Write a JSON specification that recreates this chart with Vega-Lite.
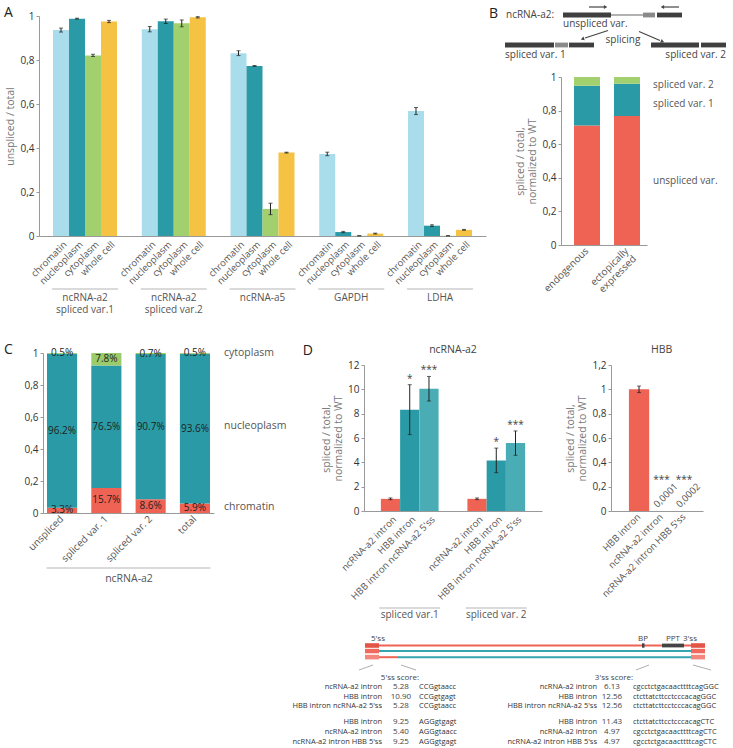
{
"$schema": "https://vega.github.io/schema/vega-lite/v6.json",
"padding": {"left": 3, "top": 3, "right": 0, "bottom": 0},
"background": "white",
"spacing": 11,
"resolve": {"scale": {"color": "independent", "xOffset": "independent"}},
"config": {
  "font": "Open Sans",
  "view": {"stroke": null},
  "axis": {"labelFont": "Open Sans", "titleFont": "Open Sans", "labelFontSize": 10, "titleFontSize": 10.5, "titleFontWeight": "normal", "labelColor": "#333", "titleColor": "#777", "domainColor": "#999", "tickColor": "#999", "tickSize": 3, "grid": false, "labelPadding": 2, "labelOverlap": false},
  "text": {"font": "Open Sans"}
},
"vconcat": [
 {"hconcat": [
   {"vconcat": [
     {"width": 1, "height": 1, "data": {"values": [{"s": 0}]}, "mark": {"type": "point", "opacity": 0, "size": 0, "strokeWidth": 0}, "encoding": {}},
     {
      "width": 447, "height": 220,
      "data": {"values": [
        {"gene":"ncRNA-a2|spliced var.1","comp":"chromatin","v":0.936,"lo":0.927,"hi":0.945},
        {"gene":"ncRNA-a2|spliced var.1","comp":"nucleoplasm","v":0.988,"lo":0.986,"hi":0.990},
        {"gene":"ncRNA-a2|spliced var.1","comp":"cytoplasm","v":0.821,"lo":0.816,"hi":0.826},
        {"gene":"ncRNA-a2|spliced var.1","comp":"whole cell","v":0.975,"lo":0.970,"hi":0.980},
        {"gene":"ncRNA-a2|spliced var.2","comp":"chromatin","v":0.940,"lo":0.928,"hi":0.952},
        {"gene":"ncRNA-a2|spliced var.2","comp":"nucleoplasm","v":0.976,"lo":0.966,"hi":0.986},
        {"gene":"ncRNA-a2|spliced var.2","comp":"cytoplasm","v":0.967,"lo":0.951,"hi":0.982},
        {"gene":"ncRNA-a2|spliced var.2","comp":"whole cell","v":0.994,"lo":0.991,"hi":0.997},
        {"gene":"ncRNA-a5","comp":"chromatin","v":0.831,"lo":0.820,"hi":0.842},
        {"gene":"ncRNA-a5","comp":"nucleoplasm","v":0.773,"lo":0.771,"hi":0.775},
        {"gene":"ncRNA-a5","comp":"cytoplasm","v":0.123,"lo":0.097,"hi":0.149},
        {"gene":"ncRNA-a5","comp":"whole cell","v":0.379,"lo":0.377,"hi":0.381},
        {"gene":"GAPDH","comp":"chromatin","v":0.373,"lo":0.365,"hi":0.381},
        {"gene":"GAPDH","comp":"nucleoplasm","v":0.018,"lo":0.015,"hi":0.021},
        {"gene":"GAPDH","comp":"cytoplasm","v":0.001,"lo":0.001,"hi":0.001},
        {"gene":"GAPDH","comp":"whole cell","v":0.011,"lo":0.009,"hi":0.013},
        {"gene":"LDHA","comp":"chromatin","v":0.568,"lo":0.552,"hi":0.584},
        {"gene":"LDHA","comp":"nucleoplasm","v":0.047,"lo":0.043,"hi":0.051},
        {"gene":"LDHA","comp":"cytoplasm","v":0.001,"lo":0.001,"hi":0.001},
        {"gene":"LDHA","comp":"whole cell","v":0.028,"lo":0.026,"hi":0.030}
      ]},
      "encoding": {
        "x": {"field": "gene", "type": "nominal", "sort": null, "scale": {"paddingInner": 0.279, "paddingOuter": 0.158},
              "axis": {"title": null, "ticks": false, "labelAngle": 0, "labelExpr": "split(datum.label, '|')", "labelPadding": 56, "labelBaseline": "top", "labelLineHeight": 12, "labelColor": "#555", "labelFontSize": 10}},
        "xOffset": {"field": "comp", "type": "nominal", "sort": null, "scale": {"domain": ["chromatin","nucleoplasm","cytoplasm","whole cell"], "paddingInner": 0, "paddingOuter": 0}}
      },
      "layer": [
        {"mark": {"type": "bar"},
         "encoding": {
           "y": {"field": "v", "type": "quantitative", "scale": {"domain": [0, 1]}, "axis": {"title": "unspliced / total", "values": [0,0.2,0.4,0.6,0.8,1], "tickCount": 10, "labelExpr": "replace(format(datum.value, '~g'), '.', ',')"}},
           "color": {"field": "comp", "type": "nominal", "scale": {"domain": ["chromatin","nucleoplasm","cytoplasm","whole cell"], "range": ["#a9ddec","#2a9ba6","#a2d06e","#f5c243"]}, "legend": null}
         }},
        {"mark": {"type": "rule", "color": "#222", "strokeWidth": 1},
         "encoding": {"y": {"field": "lo", "type": "quantitative"}, "y2": {"field": "hi"}}},
        {"mark": {"type": "tick", "orient": "horizontal", "size": 4, "thickness": 1, "color": "#222"},
         "encoding": {"y": {"field": "lo", "type": "quantitative"}}},
        {"mark": {"type": "tick", "orient": "horizontal", "size": 4, "thickness": 1, "color": "#222"},
         "encoding": {"y": {"field": "hi", "type": "quantitative"}}},
        {"mark": {"type": "text", "angle": -45, "align": "right", "baseline": "middle", "dx": -2, "dy": 8, "fontSize": 9.5, "color": "#555"},
         "encoding": {"y": {"datum": 0, "type": "quantitative"}, "text": {"field": "comp"}}},
        {"data": {"values": [{"gene":"ncRNA-a2|spliced var.1"},{"gene":"ncRNA-a2|spliced var.2"},{"gene":"ncRNA-a5"},{"gene":"GAPDH"},{"gene":"LDHA"}]},
         "mark": {"type": "tick", "orient": "horizontal", "size": 66, "thickness": 1, "color": "#999"},
         "encoding": {"xOffset": null, "y": {"datum": -0.241, "type": "quantitative"}}},
        {"data": {"values": [{"t": "A"}]},
         "mark": {"type": "text", "align": "left", "baseline": "middle", "dx": -49, "fontSize": 14, "color": "#222"},
         "encoding": {"x": {"datum": "ncRNA-a2|spliced var.1", "type": "nominal", "bandPosition": 0}, "xOffset": null, "y": {"datum": 1.014, "type": "quantitative"}, "text": {"field": "t"}}}
      ]
     },
     {"width": 1, "height": 78, "data": {"values": [{"s": 0}]}, "mark": {"type": "point", "opacity": 0, "size": 0, "strokeWidth": 0}, "encoding": {}}
   ], "spacing": 12, "bounds": "flush", "resolve": {"scale": {"color": "independent", "xOffset": "independent"}}},
   {"vconcat": [
     {
      "width": 167, "height": 56,
      "encoding": {
        "x": {"field": "x", "type": "quantitative", "scale": {"domain": [56, 223]}, "axis": null},
        "y": {"field": "y", "type": "quantitative", "scale": {"domain": [0, 56], "reverse": true}, "axis": null}
      },
      "layer": [
        {"data": {"values": [{"x":106,"y":12,"x2":138,"y2":12}]},
         "mark": {"type": "rule", "color": "#999", "strokeWidth": 1.5},
         "encoding": {"x2": {"field": "x2"}, "y2": {"field": "y2"}}},
        {"data": {"values": [
           {"x":58,"x2":106,"y":9.6,"y2":14.4,"k":"exon"},
           {"x":138,"x2":150,"y":9.6,"y2":14.4,"k":"alt exon"},
           {"x":152,"x2":177,"y":9.6,"y2":14.4,"k":"exon"},
           {"x":0,"x2":49,"y":39.6,"y2":44.4,"k":"exon"},
           {"x":50,"x2":63,"y":39.6,"y2":44.4,"k":"alt exon"},
           {"x":64,"x2":89,"y":39.6,"y2":44.4,"k":"exon"},
           {"x":146,"x2":194,"y":39.6,"y2":44.4,"k":"exon"},
           {"x":196,"x2":221,"y":39.6,"y2":44.4,"k":"exon"}]},
         "mark": {"type": "rect"},
         "encoding": {"x2": {"field": "x2"}, "y2": {"field": "y2"},
           "color": {"field": "k", "type": "nominal", "scale": {"domain": ["exon","alt exon"], "range": ["#3f3f3f","#8a8a8a"]}, "legend": null}}},
        {"data": {"values": [
           {"x":84,"y":4,"x2":99,"y2":4},
           {"x":174,"y":4,"x2":159,"y2":4},
           {"x":103,"y":27.5,"x2":80,"y2":35},
           {"x":134,"y":28.5,"x2":155,"y2":37.5}]},
         "mark": {"type": "rule", "color": "#444", "strokeWidth": 1.2},
         "encoding": {"x2": {"field": "x2"}, "y2": {"field": "y2"}}},
        {"data": {"values": [
           {"x":100,"y":4,"dir":90},
           {"x":158,"y":4,"dir":270},
           {"x":78,"y":35.7,"dir":252},
           {"x":157,"y":38.4,"dir":113}]},
         "mark": {"type": "point", "shape": "triangle", "filled": true, "color": "#444", "size": 16, "opacity": 1},
         "encoding": {"angle": {"field": "dir", "type": "quantitative", "scale": null}}},
        {"data": {"values": [
           {"x":1,"y":12,"t":"ncRNA-a2:"},
           {"x":58,"y":21,"t":"unspliced var."},
           {"x":0,"y":52,"t":"spliced var. 1"}]},
         "mark": {"type": "text", "align": "left", "baseline": "middle", "fontSize": 10, "color": "#444"},
         "encoding": {"text": {"field": "t"}}},
        {"data": {"values": [{"x":118,"y":37,"t":"splicing"}]},
         "mark": {"type": "text", "align": "center", "baseline": "middle", "fontSize": 10, "color": "#444"},
         "encoding": {"text": {"field": "t"}}},
        {"data": {"values": [{"x":221,"y":52,"t":"spliced var. 2"}]},
         "mark": {"type": "text", "align": "right", "baseline": "middle", "fontSize": 10, "color": "#444"},
         "encoding": {"text": {"field": "t"}}},
        {"data": {"values": [{"x":-16,"y":11,"t":"B"}]},
         "mark": {"type": "text", "align": "left", "baseline": "middle", "fontSize": 14, "color": "#222"},
         "encoding": {"text": {"field": "t"}}}
      ]
     },
     {
      "width": 86, "height": 168,
      "data": {"values": [
        {"cond":"endogenous","part":"unspliced var.","k":1,"v":0.712},
        {"cond":"endogenous","part":"spliced var. 1","k":2,"v":0.236},
        {"cond":"endogenous","part":"spliced var. 2","k":3,"v":0.052},
        {"cond":"ectopically|expressed","part":"unspliced var.","k":1,"v":0.768},
        {"cond":"ectopically|expressed","part":"spliced var. 1","k":2,"v":0.192},
        {"cond":"ectopically|expressed","part":"spliced var. 2","k":3,"v":0.040}
      ]},
      "layer": [
        {"mark": {"type": "bar"},
         "encoding": {
           "x": {"field": "cond", "type": "nominal", "sort": null, "scale": {"paddingInner": 0.35, "paddingOuter": 0.25, "align": 0.65},
                 "axis": {"title": null, "ticks": false, "labelAngle": -45, "labelAlign": "right", "labelBaseline": "middle", "labelExpr": "split(datum.label, '|')", "labelPadding": 4, "labelColor": "#555", "labelFontSize": 10, "labelLineHeight": 11}},
           "y": {"field": "v", "type": "quantitative", "stack": "zero", "scale": {"domain": [0, 1]},
                 "axis": {"title": ["spliced / total,", "normalized to WT"], "values": [0,0.2,0.4,0.6,0.8,1], "tickCount": 10, "labelExpr": "replace(format(datum.value, '~g'), '.', ',')"}},
           "color": {"field": "part", "type": "nominal", "scale": {"domain": ["unspliced var.","spliced var. 1","spliced var. 2"], "range": ["#ef6354","#2a9ba6","#a2d06e"]}, "legend": null},
           "order": {"field": "k", "type": "quantitative"}
         }},
        {"data": {"values": [{"t":"spliced var. 2","y":0.952},{"t":"spliced var. 1","y":0.839},{"t":"unspliced var.","y":0.38}]},
         "mark": {"type": "text", "align": "left", "baseline": "middle", "dx": 13, "fontSize": 10, "color": "#555"},
         "encoding": {
           "x": {"datum": "ectopically|expressed", "type": "nominal", "bandPosition": 1},
           "y": {"field": "y", "type": "quantitative"},
           "text": {"field": "t"}
         }}
      ]
     }
   ], "spacing": 18, "bounds": "flush", "resolve": {"scale": {"color": "independent", "xOffset": "independent"}}}
 ], "spacing": 3, "resolve": {"scale": {"color": "independent", "xOffset": "independent"}}},
 {"hconcat": [
   {"concat": [
     {"width": 1, "height": 1, "data": {"values": [{"s": 0}]}, "mark": {"type": "point", "opacity": 0, "size": 0, "strokeWidth": 0}, "encoding": {}},
     {"width": 248, "height": 1, "data": {"values": [{"s": 0}]}, "mark": {"type": "point", "opacity": 0, "size": 0, "strokeWidth": 0}, "encoding": {}},
     {"width": 1, "height": 1, "data": {"values": [{"s": 0}]}, "mark": {"type": "point", "opacity": 0, "size": 0, "strokeWidth": 0}, "encoding": {}},
     {
      "width": 171, "height": 160,
      "data": {"values": [
        {"cat":"unspliced","comp":"chromatin","k":1,"v":0.033},
        {"cat":"unspliced","comp":"nucleoplasm","k":2,"v":0.962},
        {"cat":"unspliced","comp":"cytoplasm","k":3,"v":0.005},
        {"cat":"spliced var. 1","comp":"chromatin","k":1,"v":0.157},
        {"cat":"spliced var. 1","comp":"nucleoplasm","k":2,"v":0.765},
        {"cat":"spliced var. 1","comp":"cytoplasm","k":3,"v":0.078},
        {"cat":"spliced var. 2","comp":"chromatin","k":1,"v":0.086},
        {"cat":"spliced var. 2","comp":"nucleoplasm","k":2,"v":0.907},
        {"cat":"spliced var. 2","comp":"cytoplasm","k":3,"v":0.007},
        {"cat":"total","comp":"chromatin","k":1,"v":0.059},
        {"cat":"total","comp":"nucleoplasm","k":2,"v":0.936},
        {"cat":"total","comp":"cytoplasm","k":3,"v":0.005}
      ]},
      "encoding": {
        "x": {"field": "cat", "type": "nominal", "sort": null, "scale": {"paddingInner": 0.32, "paddingOuter": 0.09},
              "axis": {"title": "ncRNA-a2", "titleY": 65, "titleBaseline": "middle", "titleColor": "#555", "ticks": false, "labelAngle": -45, "labelAlign": "right", "labelBaseline": "middle", "labelPadding": 4, "labelColor": "#555", "labelFontSize": 10}}
      },
      "layer": [
        {"mark": {"type": "bar"},
         "encoding": {
           "y": {"field": "v", "type": "quantitative", "stack": "zero", "scale": {"domain": [0, 1]},
                 "axis": {"title": null, "values": [0,0.2,0.4,0.6,0.8,1], "tickCount": 10, "labelExpr": "replace(format(datum.value, '~g'), '.', ',')"}},
           "color": {"field": "comp", "type": "nominal", "scale": {"domain": ["chromatin","nucleoplasm","cytoplasm"], "range": ["#ef6354","#2a9ba6","#9ccb6a"]}, "legend": null},
           "order": {"field": "k", "type": "quantitative"}
         }},
        {"mark": {"type": "text", "align": "center", "baseline": "middle", "fontSize": 10, "color": "#222"},
         "encoding": {
           "y": {"field": "v", "type": "quantitative", "stack": "zero", "bandPosition": 0.5},
           "detail": {"field": "comp", "type": "nominal"},
           "order": {"field": "k", "type": "quantitative"},
           "text": {"field": "v", "type": "quantitative", "format": ".1%"}
         }},
        {"data": {"values": [{"t":"cytoplasm","y":1.0},{"t":"nucleoplasm","y":0.544},{"t":"chromatin","y":0.04}]},
         "mark": {"type": "text", "align": "left", "baseline": "middle", "dx": 14, "fontSize": 10.5, "color": "#555"},
         "encoding": {
           "x": {"datum": "total", "type": "nominal", "bandPosition": 1},
           "y": {"field": "y", "type": "quantitative"},
           "text": {"field": "t"}
         }},
        {"data": {"values": [{"grp": "ncRNA-a2"}]},
         "mark": {"type": "tick", "orient": "horizontal", "size": 164, "thickness": 1, "color": "#999"},
         "encoding": {"x": null, "y": {"datum": -0.344, "type": "quantitative"}}},
        {"data": {"values": [{"t": "C"}]},
         "mark": {"type": "text", "align": "left", "baseline": "middle", "dx": -43, "fontSize": 14, "color": "#222"},
         "encoding": {"x": {"datum": "unspliced", "type": "nominal", "bandPosition": 0}, "y": {"datum": 1.019, "type": "quantitative"}, "text": {"field": "t"}}}
      ]
     }
   ], "columns": 2, "spacing": {"row": 15, "column": 3}, "bounds": "flush", "resolve": {"scale": {"color": "independent", "xOffset": "independent"}}},
   {"vconcat": [
     {"width": 1, "height": 1, "data": {"values": [{"s": 0}]}, "mark": {"type": "point", "opacity": 0, "size": 0, "strokeWidth": 0}, "encoding": {}},
     {"hconcat": [
       {
        "width": 178, "height": 146,
        "data": {"values": [
          {"grp":"spliced var.1","con":"ncRNA-a2 intron","v":1.0,"lo":0.93,"hi":1.07,"sig":""},
          {"grp":"spliced var.1","con":"HBB intron","v":8.33,"lo":6.28,"hi":10.38,"sig":"*"},
          {"grp":"spliced var.1","con":"HBB intron ncRNA-a2 5'ss","v":10.05,"lo":9.04,"hi":11.06,"sig":"***"},
          {"grp":"spliced var. 2","con":"ncRNA-a2 intron","v":1.0,"lo":0.93,"hi":1.07,"sig":""},
          {"grp":"spliced var. 2","con":"HBB intron","v":4.15,"lo":3.15,"hi":5.17,"sig":"*"},
          {"grp":"spliced var. 2","con":"HBB intron ncRNA-a2 5'ss","v":5.58,"lo":4.58,"hi":6.58,"sig":"***"}
        ]},
        "encoding": {
          "x": {"field": "grp", "type": "nominal", "sort": null, "scale": {"paddingInner": 0.333, "paddingOuter": 0.195},
                "axis": {"title": null, "ticks": false, "labelAngle": 0, "labelPadding": 103, "labelBaseline": "middle", "labelColor": "#555", "labelFontSize": 10}},
          "xOffset": {"field": "con", "type": "nominal", "sort": null, "scale": {"domain": ["ncRNA-a2 intron","HBB intron","HBB intron ncRNA-a2 5'ss"], "paddingInner": 0, "paddingOuter": 0}}
        },
        "layer": [
          {"mark": {"type": "bar"},
           "encoding": {
             "y": {"field": "v", "type": "quantitative", "scale": {"domain": [0, 12]},
                   "axis": {"title": ["spliced / total,", "normalized to WT"], "values": [0,2,4,6,8,10,12], "tickCount": 10}},
             "color": {"field": "con", "type": "nominal", "scale": {"domain": ["ncRNA-a2 intron","HBB intron","HBB intron ncRNA-a2 5'ss"], "range": ["#ef6354","#2a9ba6","#4aadb5"]}, "legend": null}
           }},
          {"mark": {"type": "rule", "color": "#222", "strokeWidth": 1},
           "encoding": {"y": {"field": "lo", "type": "quantitative"}, "y2": {"field": "hi"}}},
          {"mark": {"type": "tick", "orient": "horizontal", "size": 4, "thickness": 1, "color": "#222"},
           "encoding": {"y": {"field": "lo", "type": "quantitative"}}},
          {"mark": {"type": "tick", "orient": "horizontal", "size": 4, "thickness": 1, "color": "#222"},
           "encoding": {"y": {"field": "hi", "type": "quantitative"}}},
          {"mark": {"type": "text", "align": "center", "baseline": "alphabetic", "dy": -3, "fontSize": 10, "color": "#444"},
           "encoding": {"y": {"field": "hi", "type": "quantitative"}, "text": {"field": "sig"}}},
          {"mark": {"type": "text", "angle": -45, "align": "right", "baseline": "middle", "dx": -2, "dy": 8, "fontSize": 9.5, "color": "#555"},
           "encoding": {"y": {"datum": 0, "type": "quantitative"}, "text": {"field": "con"}}},
          {"data": {"values": [{"grp":"spliced var.1"},{"grp":"spliced var. 2"}]},
           "mark": {"type": "tick", "orient": "horizontal", "size": 61, "thickness": 1, "color": "#999"},
           "encoding": {"xOffset": null, "y": {"datum": -7.97, "type": "quantitative"}}},
          {"data": {"values": [{"gene": "ncRNA-a2"}]},
           "mark": {"type": "text", "align": "center", "baseline": "middle", "fontSize": 10.5, "color": "#444"},
           "encoding": {"x": null, "xOffset": null, "y": {"datum": 13.2, "type": "quantitative"}, "text": {"field": "gene"}}},
          {"data": {"values": [{"t": "D"}]},
           "mark": {"type": "text", "align": "left", "baseline": "middle", "dx": -78, "fontSize": 14, "color": "#222"},
           "encoding": {"x": {"datum": "spliced var.1", "type": "nominal", "bandPosition": 0}, "xOffset": null, "y": {"datum": 13.15, "type": "quantitative"}, "text": {"field": "t"}}},
          {"data": {"values": [{"m": 1}]},
           "mark": {"type": "point", "opacity": 0, "size": 0, "strokeWidth": 0},
           "encoding": {"x": {"datum": "spliced var.1", "type": "nominal"}, "xOffset": null, "y": {"datum": 13.973, "type": "quantitative"}}},
          {"data": {"values": [{"m": 1}]},
           "mark": {"type": "point", "opacity": 0, "size": 0, "strokeWidth": 0},
           "encoding": {"x": {"datum": "spliced var.1", "type": "nominal"}, "xOffset": null, "y": {"datum": -9.534, "type": "quantitative"}}}
        ]
       },
       {
        "width": 92, "height": 146,
        "data": {"values": [
          {"con":"HBB intron","v":1.0,"lo":0.973,"hi":1.027,"sig":"","lab":""},
          {"con":"ncRNA-a2 intron","v":0.0001,"lo":0.0001,"hi":0.0001,"sig":"***","lab":"0,0001"},
          {"con":"ncRNA-a2 intron HBB 5'ss","v":0.0002,"lo":0.0002,"hi":0.0002,"sig":"***","lab":"0,0002"}
        ]},
        "encoding": {
          "x": {"field": "con", "type": "nominal", "sort": null, "scale": {"paddingInner": 0.1, "paddingOuter": 0.594, "align": 0.67},
                "axis": {"title": null, "ticks": false, "labelAngle": -45, "labelAlign": "right", "labelBaseline": "middle", "labelPadding": 4, "labelColor": "#555", "labelFontSize": 9.5}}
        },
        "layer": [
          {"mark": {"type": "bar"},
           "encoding": {
             "y": {"field": "v", "type": "quantitative", "scale": {"domain": [0, 1.2]},
                   "axis": {"title": ["spliced / total,", "normalized to WT"], "values": [0,0.2,0.4,0.6,0.8,1,1.2], "tickCount": 10, "labelExpr": "replace(format(datum.value, '~g'), '.', ',')"}},
             "color": {"field": "con", "type": "nominal", "scale": {"domain": ["HBB intron","ncRNA-a2 intron","ncRNA-a2 intron HBB 5'ss"], "range": ["#ef6354","#2a9ba6","#4aadb5"]}, "legend": null}
           }},
          {"transform": [{"filter": "datum.con == 'HBB intron'"}],
           "mark": {"type": "rule", "color": "#222", "strokeWidth": 1},
           "encoding": {"y": {"field": "lo", "type": "quantitative"}, "y2": {"field": "hi"}}},
          {"transform": [{"filter": "datum.con == 'HBB intron'"}],
           "mark": {"type": "tick", "orient": "horizontal", "size": 4, "thickness": 1, "color": "#222"},
           "encoding": {"y": {"field": "lo", "type": "quantitative"}}},
          {"transform": [{"filter": "datum.con == 'HBB intron'"}],
           "mark": {"type": "tick", "orient": "horizontal", "size": 4, "thickness": 1, "color": "#222"},
           "encoding": {"y": {"field": "hi", "type": "quantitative"}}},
          {"mark": {"type": "text", "align": "center", "baseline": "alphabetic", "dy": -28, "fontSize": 10, "color": "#444"},
           "encoding": {"y": {"field": "v", "type": "quantitative"}, "text": {"field": "sig"}}},
          {"mark": {"type": "text", "angle": -45, "align": "center", "baseline": "middle", "dx": 14, "dy": -8, "fontSize": 9.5, "color": "#555"},
           "encoding": {"y": {"field": "v", "type": "quantitative"}, "text": {"field": "lab"}}},
          {"data": {"values": [{"gene": "HBB"}]},
           "mark": {"type": "text", "align": "center", "baseline": "middle", "fontSize": 10.5, "color": "#444"},
           "encoding": {"x": {"datum": "ncRNA-a2 intron", "type": "nominal"}, "y": {"datum": 1.323, "type": "quantitative"}, "text": {"field": "gene"}}}
        ]
       }
     ], "spacing": 69, "bounds": "flush", "resolve": {"scale": {"color": "independent", "xOffset": "independent"}}},
     {
      "width": 367, "height": 120,
      "encoding": {
        "x": {"field": "x", "type": "quantitative", "scale": {"domain": [73, 440]}, "axis": null},
        "y": {"field": "y", "type": "quantitative", "scale": {"domain": [7, 127], "reverse": true}, "axis": null}
      },
      "layer": [
        {"data": {"values": [
           {"x":88,"x2":400,"y":22.4,"y2":24.4,"k":"ncRNA-a2 intron"},
           {"x":88,"x2":400,"y":28.1,"y2":30.1,"k":"HBB intron"},
           {"x":88,"x2":107,"y":34.2,"y2":36.2,"k":"ncRNA-a2 intron"},
           {"x":107,"x2":400,"y":34.2,"y2":36.2,"k":"HBB intron"},
           {"x":74,"x2":88,"y":21.2,"y2":25.8,"k":"exon 1"},
           {"x":74,"x2":88,"y":26.8,"y2":31.3,"k":"exon 2"},
           {"x":74,"x2":88,"y":32.8,"y2":37.4,"k":"exon 3"},
           {"x":400,"x2":414,"y":21.2,"y2":25.8,"k":"exon 1"},
           {"x":400,"x2":414,"y":26.8,"y2":31.3,"k":"exon 2"},
           {"x":400,"x2":414,"y":32.8,"y2":37.4,"k":"exon 3"},
           {"x":351,"x2":353.5,"y":21.3,"y2":25.7,"k":"motif"},
           {"x":371,"x2":393,"y":21.6,"y2":25.4,"k":"motif"}]},
         "mark": {"type": "rect"},
         "encoding": {"x2": {"field": "x2"}, "y2": {"field": "y2"},
           "color": {"field": "k", "type": "nominal", "scale": {"domain": ["ncRNA-a2 intron","HBB intron","exon 1","exon 2","exon 3","motif"], "range": ["#ee6354","#35a6b0","#e35548","#ef6a5c","#f4877d","#444444"]}, "legend": null}}},
        {"data": {"values": [
           {"x":68,"y":48,"x2":82,"y2":43},
           {"x":110,"y":43,"x2":125,"y2":48},
           {"x":345,"y":48,"x2":358,"y2":43},
           {"x":402,"y":43,"x2":420,"y2":48}]},
         "mark": {"type": "rule", "color": "#999", "strokeWidth": 0.8},
         "encoding": {"x2": {"field": "x2"}, "y2": {"field": "y2"}}},
        {"data": {"values": [
           {"x":87,"y":17,"t":"5'ss"},
           {"x":352,"y":17,"t":"BP"},
           {"x":382,"y":17,"t":"PPT"},
           {"x":399,"y":17,"t":"3'ss"},
           {"x":109,"y":56,"t":"5'ss score:"},
           {"x":323,"y":56,"t":"3'ss score:"},
           {"x":110,"y":65,"t":"5.28"},{"x":110,"y":75,"t":"10.90"},{"x":110,"y":84,"t":"5.28"},
           {"x":110,"y":100,"t":"9.25"},{"x":110,"y":110,"t":"5.40"},{"x":110,"y":120,"t":"9.25"},
           {"x":321,"y":65,"t":"6.13"},{"x":321,"y":75,"t":"12.56"},{"x":321,"y":84,"t":"12.56"},
           {"x":321,"y":100,"t":"11.43"},{"x":321,"y":110,"t":"4.97"},{"x":321,"y":120,"t":"4.97"}]},
         "mark": {"type": "text", "align": "center", "baseline": "middle", "fontSize": 8, "color": "#444"},
         "encoding": {"text": {"field": "t"}}},
        {"data": {"values": [{"x": 0, "y": 60}]},
         "mark": {"type": "point", "opacity": 0, "size": 0, "strokeWidth": 0},
         "encoding": {}},
        {"data": {"values": [
           {"x":91,"y":65,"t":"ncRNA-a2 intron"},{"x":91,"y":75,"t":"HBB intron"},{"x":91,"y":84,"t":"HBB intron ncRNA-a2 5'ss"},
           {"x":91,"y":100,"t":"HBB intron"},{"x":91,"y":110,"t":"ncRNA-a2 intron"},{"x":91,"y":120,"t":"ncRNA-a2 intron HBB 5'ss"},
           {"x":306,"y":65,"t":"ncRNA-a2 intron"},{"x":306,"y":75,"t":"HBB intron"},{"x":306,"y":84,"t":"HBB intron ncRNA-a2 5'ss"},
           {"x":306,"y":100,"t":"HBB intron"},{"x":306,"y":110,"t":"ncRNA-a2 intron"},{"x":306,"y":120,"t":"ncRNA-a2 intron HBB 5'ss"}]},
         "mark": {"type": "text", "align": "right", "baseline": "middle", "fontSize": 7.5, "color": "#333"},
         "encoding": {"text": {"field": "t"}}},
        {"data": {"values": [
           {"x":128,"y":65,"t":"CCGgtaacc"},{"x":128,"y":75,"t":"CCGgtgagt"},{"x":128,"y":84,"t":"CCGgtaacc"},
           {"x":128,"y":100,"t":"AGGgtgagt"},{"x":128,"y":110,"t":"AGGgtaacc"},{"x":128,"y":120,"t":"AGGgtgagt"},
           {"x":342,"y":65,"t":"cgcctctgacaacttttcagGGC"},{"x":342,"y":75,"t":"ctcttatcttcctcccacagGGC"},{"x":342,"y":84,"t":"ctcttatcttcctcccacagGGC"},
           {"x":342,"y":100,"t":"ctcttatcttcctcccacagCTC"},{"x":342,"y":110,"t":"cgcctctgacaacttttcagCTC"},{"x":342,"y":120,"t":"cgcctctgacaacttttcagCTC"}]},
         "mark": {"type": "text", "align": "left", "baseline": "middle", "fontSize": 7.5, "color": "#333"},
         "encoding": {"text": {"field": "t"}}}
      ]
     }
   ], "spacing": 2, "resolve": {"scale": {"color": "independent", "xOffset": "independent"}}}
 ], "spacing": 0, "resolve": {"scale": {"color": "independent", "xOffset": "independent"}}}
]
}
